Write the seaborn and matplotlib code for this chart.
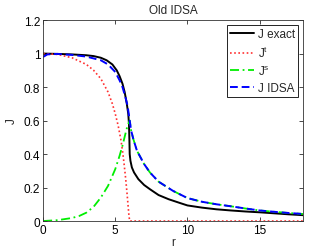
import numpy as np
import pandas as pd
import matplotlib
matplotlib.use("Agg")
import matplotlib.pyplot as plt
import matplotlib.ticker as mticker
import seaborn as sns

# ── Data ────────────────────────────────────────────────────
r_exact = [0, 1, 2, 3, 3.5, 4, 4.4, 4.8, 5.1, 5.3, 5.5, 5.65, 5.8, 5.9, 5.95, 5.98,
           6.0, 6.05, 6.15, 6.3, 6.6, 7, 7.4, 8, 8.7, 9.5, 10, 11, 12, 13, 14, 15,
           16, 17, 18]
j_exact = [1.0, 0.998, 0.995, 0.99, 0.985, 0.975, 0.96, 0.935, 0.9, 0.865, 0.82, 0.77,
           0.7, 0.64, 0.58, 0.48, 0.40, 0.36, 0.32, 0.29, 0.25, 0.215, 0.19, 0.155,
           0.13, 0.107, 0.093, 0.08, 0.07, 0.063, 0.057, 0.052, 0.046, 0.04, 0.035]

r_t = [0, 1, 2, 3, 3.5, 4, 4.5, 4.8, 5, 5.2, 5.4, 5.5, 5.6, 5.7, 5.8, 5.9, 5.95, 6.0, 18]
j_t = [1.0, 0.995, 0.975, 0.935, 0.9, 0.85, 0.77, 0.7, 0.64, 0.57, 0.48, 0.42, 0.35,
       0.27, 0.18, 0.08, 0.03, 0.0, 0.0]

r_s = [0, 1, 2, 2.5, 3, 3.5, 4, 4.5, 5, 5.3, 5.5, 5.7, 5.85, 6.0, 6.1, 6.25, 6.5,
       7, 7.4, 8, 9, 10, 11, 12, 13, 14, 15, 16, 17, 18]
j_s = [0.0, 0.005, 0.018, 0.03, 0.05, 0.085, 0.14, 0.21, 0.31, 0.39, 0.45, 0.52, 0.57,
       0.6, 0.54, 0.49, 0.42, 0.34, 0.29, 0.235, 0.18, 0.137, 0.115, 0.1, 0.088,
       0.075, 0.063, 0.055, 0.048, 0.042]

r_idsa = [0, 0.3, 1, 2, 3, 4, 4.5, 5, 5.3, 5.5, 5.7, 5.85, 6.0, 6.1, 6.25, 6.5, 7,
          7.4, 8, 9, 10, 11, 12, 13, 14, 15, 16, 17, 18]
j_idsa = [0.98, 0.995, 0.998, 0.992, 0.982, 0.96, 0.935, 0.89, 0.84, 0.80, 0.74, 0.69,
          0.6, 0.54, 0.49, 0.42, 0.34, 0.29, 0.235, 0.18, 0.137, 0.115, 0.1, 0.088,
          0.075, 0.063, 0.055, 0.048, 0.042]

x_ticks = [0, 5, 10, 15]
y_ticks = [0, 0.2, 0.4, 0.6, 0.8, 1.0, 1.2]

# ── Style ────────────────────────────────────────────────────
sns.set_theme(style="ticks")
plt.rcParams['font.family'] = ['Liberation Sans', 'DejaVu Sans']
plt.rcParams['mathtext.fontset'] = 'custom'
plt.rcParams['mathtext.rm'] = 'Liberation Sans'
plt.rcParams['mathtext.it'] = 'Liberation Sans'
plt.rcParams['font.size'] = 8.5
plt.rcParams['xtick.direction'] = 'in'
plt.rcParams['ytick.direction'] = 'in'

fig = plt.figure(figsize=(3.34, 2.51), dpi=100)
ax = fig.add_axes([0.129, 0.1155, 0.778, 0.8005])

sns.lineplot(x=r_exact, y=j_exact, ax=ax, color='black', lw=1.4, label='J exact')
sns.lineplot(x=r_t, y=j_t, ax=ax, color='#ff3030', lw=1.2, linestyle=(0, (1, 1.5)),
             label='$\\mathregular{J^t}$')
sns.lineplot(x=r_s, y=j_s, ax=ax, color='#00ee00', lw=1.3, linestyle=(0, (5, 2, 1, 2)),
             label='$\\mathregular{J^s}$')
sns.lineplot(x=r_idsa, y=j_idsa, ax=ax, color='#0000ff', lw=1.4, linestyle=(0, (4, 2)),
             label='J IDSA')

ax.set_xlim(0, 18)
ax.set_ylim(0, 1.2)
ax.set_xticks(x_ticks)
ax.set_yticks(y_ticks)
fmt = mticker.FuncFormatter(lambda v, p: f"{v:g}")
ax.xaxis.set_major_formatter(fmt)
ax.yaxis.set_major_formatter(fmt)
ax.tick_params(top=True, right=True, length=3, width=0.5, labelsize=8.5, pad=2,
               colors='black')
for sp in ax.spines.values():
    sp.set_visible(True)
    sp.set_linewidth(0.6)
    sp.set_color('#333333')

ax.set_xlabel('r', fontsize=8.5, labelpad=0)
ax.set_ylabel('J', fontsize=8.5, labelpad=4)
ax.set_title('Old IDSA', fontsize=8.5, pad=5)

leg = ax.legend(loc='upper right', fancybox=False, framealpha=1, edgecolor='black',
                fontsize=8.5, handlelength=2.0, labelspacing=0.35, borderpad=0.3,
                handletextpad=0.3, borderaxespad=0.4)
leg.get_frame().set_linewidth(0.6)

fig.savefig('out.png', dpi=100)
